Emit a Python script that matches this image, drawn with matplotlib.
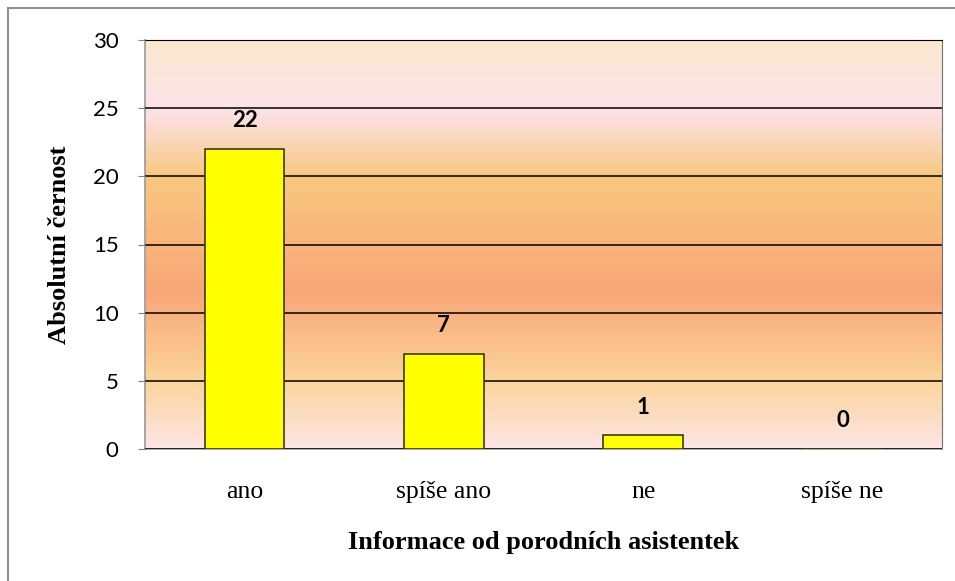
import matplotlib
matplotlib.use("Agg")
import matplotlib.pyplot as plt
import numpy as np
from matplotlib.colors import LinearSegmentedColormap
from matplotlib.lines import Line2D

categories = ["ano", "spíše ano", "ne", "spíše ne"]
values = [22, 7, 1, 0]
yticks = [0, 5, 10, 15, 20, 25, 30]
ylabel = "Absolutní černost"
xlabel = "Informace od porodních asistentek"

fig = plt.figure(figsize=(9.55, 5.81), dpi=100)
ax = fig.add_axes([145/955, 132/581, 797/955, 409/581])

# background gradient (value positions 0..30 -> fraction)
stops = [(0.0, "#FDE5E6"), (5/30, "#FBD49A"), (11.5/30, "#F9A677"),
         (20/30, "#F8C880"), (25/30, "#FCE3EC"), (1.0, "#FAE8CC")]
cmap = LinearSegmentedColormap.from_list("bg", stops)
grad = np.linspace(0, 1, 512).reshape(-1, 1)
ax.imshow(grad, cmap=cmap, aspect="auto", origin="lower",
          extent=[-0.5, 3.5, 0, 30], zorder=0)

x = np.arange(len(categories))
ax.bar(x, values, width=0.4, color="#FFFF00", edgecolor="#3a3a1a",
       linewidth=1.2, zorder=3)
for xi, v in zip(x, values):
    ax.text(xi, v + 1.3, str(v), ha="center", va="bottom",
            fontsize=16, fontweight="bold", family="Lato", zorder=4)

ax.set_xlim(-0.5, 3.5)
ax.set_ylim(0, 30)
ax.set_yticks(yticks)
ax.yaxis.grid(True, color="black", linewidth=1.1, zorder=1)
ax.set_axisbelow(False)
for gl in ax.get_ygridlines():
    gl.set_zorder(1)
ax.set_xticks(x)
ax.set_xticklabels(categories, family="Liberation Serif", fontsize=18.5)
ax.tick_params(axis="x", length=0, pad=23)
ax.tick_params(axis="y", length=5, color="#808080", labelsize=16, pad=14)
for lab in ax.get_yticklabels():
    lab.set_family("Lato")

for s in ["left", "bottom"]:
    ax.spines[s].set_color("#A0A0A0")
    ax.spines[s].set_linewidth(1.3)
ax.spines["right"].set_color("#707070")
ax.spines["top"].set_color("black")

ax.set_ylabel(ylabel, family="Liberation Serif", fontweight="bold",
              fontsize=19, labelpad=16)
ax.set_xlabel(xlabel, family="Liberation Serif", fontweight="bold",
              fontsize=19, labelpad=20)

# figure border (left and top)
fig.add_artist(Line2D([8/955, 8/955], [0, 1 - 8/581], color="#909090",
                      linewidth=1.5, transform=fig.transFigure))
fig.add_artist(Line2D([8/955, 1], [1 - 8/581, 1 - 8/581], color="#909090",
                      linewidth=1.5, transform=fig.transFigure))

fig.savefig("out.png", dpi=100)
